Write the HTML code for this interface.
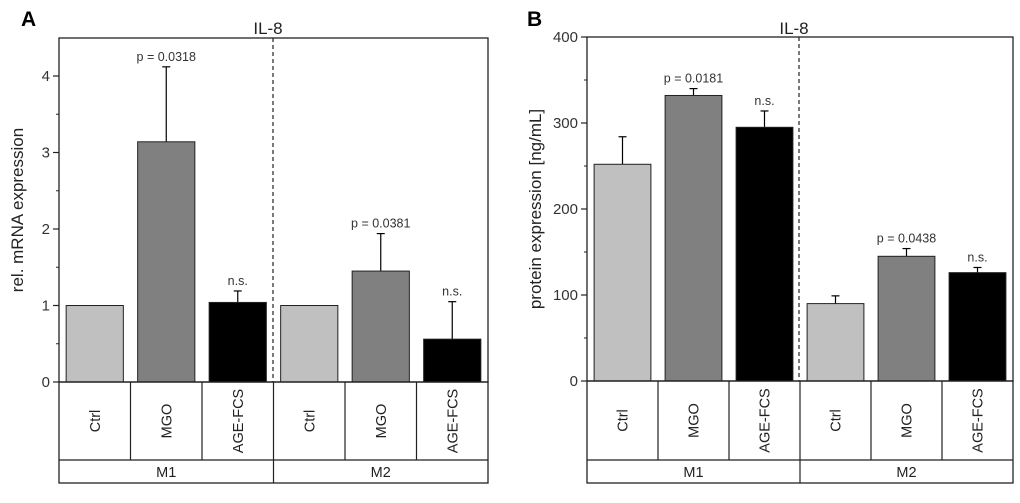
<!DOCTYPE html>
<html><head><meta charset="utf-8"><style>
html,body{margin:0;padding:0;background:#fff;width:1020px;height:503px;overflow:hidden}
svg{display:block;font-family:"Liberation Sans",Arial,sans-serif}
</style></head><body>
<svg id="c" width="1020" height="503" viewBox="0 0 1020 503" xmlns="http://www.w3.org/2000/svg"></svg>
<script>
const categories = ["Ctrl","MGO","AGE-FCS","Ctrl","MGO","AGE-FCS"];
const groups = ["M1","M2"];
const mrnaValues = [1, 3.14, 1.04, 1, 1.45, 0.56];
const mrnaErrors = [0, 0.98, 0.15, 0, 0.49, 0.49];
const mrnaLabels = ["", "p = 0.0318", "n.s.", "", "p = 0.0381", "n.s."];
const mrnaTicks = [0, 1, 2, 3, 4];
const proteinValues = [252, 332, 295, 90, 145, 126];
const proteinErrors = [32, 8, 19, 9, 9, 6];
const proteinLabels = ["", "p = 0.0181", "n.s.", "", "p = 0.0438", "n.s."];
const proteinTicks = [0, 100, 200, 300, 400];
const colors = ["#c0c0c0","#808080","#000000","#c0c0c0","#808080","#000000"];

const svg = document.getElementById('c');
const NS = "http://www.w3.org/2000/svg";
function mk(tag, attrs, parent) {
  const e = document.createElementNS(NS, tag);
  for (const k in attrs) e.setAttribute(k, attrs[k]);
  (parent || svg).appendChild(e);
  return e;
}

function panel(opt) {
  const g = mk('g', {});
  
  
  const L = opt.left, R = opt.right, T = opt.top, B = opt.base;
  const y = v => B - (v - 0) / opt.max * (B - opt.ymaxPx);
  const cw = (R - L) / 6;
  const xs = i => L + cw * i;
  const letter = mk('text', {x: opt.letterX, y: 26, 'font-size': 21, 'font-weight': 'bold', fill: '#000'}, g);
  letter.textContent = opt.letter;
  
  
  const t = mk('text', {x: opt.dash - 5, y: 34, 'font-size': 17, 'text-anchor': 'middle', fill: '#222'}, g);
  t.textContent = "IL-8";
  
  
  for (let i = 0; i < 6; i++) {
    const v = opt.values[i], e = opt.errors[i];
    const cx = xs(i) + cw / 2, bw = cw * 0.8;
    if (e > 0) {
      const l = mk('line', {x1: cx, x2: cx, y1: y(v), y2: y(v + e), stroke: '#000', 'stroke-width': 1.2}, g);
      
      
      const c = mk('line', {x1: cx - 4, x2: cx + 4, y1: y(v + e), y2: y(v + e), stroke: '#000', 'stroke-width': 1.2}, g);
      
      
    }
    const r = mk('rect', {x: cx - bw / 2, y: y(v), width: bw, height: B - y(v), fill: colors[i], stroke: '#222', 'stroke-width': 1}, g);
    
    
    if (opt.labels[i]) {
      const lt = mk('text', {x: cx, y: y(v + e) - 6, 'font-size': 12.5, 'text-anchor': 'middle', fill: '#333'}, g);
      lt.textContent = opt.labels[i];
      
      
    }
  }
  const f = mk('rect', {x: L, y: T, width: R - L, height: B - T, fill: 'none', stroke: '#222', 'stroke-width': 1.3}, g);
  
  
  const d = mk('line', {x1: opt.dash, x2: opt.dash, y1: T, y2: B, stroke: '#222', 'stroke-width': 1.2, 'stroke-dasharray': '4,3'}, g);
  
  
  const step = opt.ticks[1] - opt.ticks[0];
  for (let k = 0; k < opt.ticks.length; k++) {
    const tv = opt.ticks[k];
    const tk = mk('line', {x1: L - 6, x2: L, y1: y(tv), y2: y(tv), stroke: '#222', 'stroke-width': 1.2}, g);
    
    
    const tl = mk('text', {x: L - 9, y: y(tv) + 5, 'font-size': 15, 'text-anchor': 'end', fill: '#333'}, g);
    tl.textContent = tv;
    
    
    const mv = tv + step / 2;
    if (y(mv) > T) {
      const mt = mk('line', {x1: L - 3, x2: L, y1: y(mv), y2: y(mv), stroke: '#222', 'stroke-width': 1}, g);
      
      
    }
  }
  const yt = mk('text', {x: 0, y: 0, 'font-size': 17, 'text-anchor': 'middle', fill: '#222', transform: `translate(${opt.ytx},${(T + B) / 2}) rotate(-90)`}, g);
  yt.textContent = opt.ytitle;
  
  
  const cb = 460, gb = 483;
  const tb = mk('rect', {x: L, y: B, width: R - L, height: gb - B, fill: 'none', stroke: '#222', 'stroke-width': 1.3}, g);
  
  
  const hl = mk('line', {x1: L, x2: R, y1: cb, y2: cb, stroke: '#222', 'stroke-width': 1.2}, g);
  
  
  for (let i = 1; i < 6; i++) {
    const vl = mk('line', {x1: xs(i), x2: xs(i), y1: B, y2: i === 3 ? gb : cb, stroke: '#222', 'stroke-width': 1.2}, g);
    
    
  }
  for (let i = 0; i < 6; i++) {
    const cx = xs(i) + cw / 2;
    const ct = mk('text', {x: 0, y: 0, 'font-size': 14.5, 'text-anchor': 'middle', fill: '#222', transform: `translate(${cx + 5},${(B + cb) / 2}) rotate(-90)`}, g);
    ct.textContent = categories[i];
    
    
  }
  for (let j = 0; j < 2; j++) {
    const gx = L + (R - L) * (j * 0.5 + 0.25);
    const gt = mk('text', {x: gx, y: 477, 'font-size': 14.5, 'text-anchor': 'middle', fill: '#222'}, g);
    gt.textContent = groups[j];
    
    
  }
}

panel({id: 'mrna', letter: 'A', letterX: 21, left: 59, right: 488, top: 38, base: 382, ymaxPx: 76, max: 4,
  dash: 273, values: mrnaValues, errors: mrnaErrors, labels: mrnaLabels, ticks: mrnaTicks,
  ytitle: 'rel. mRNA expression', ytx: 23});
panel({id: 'protein', letter: 'B', letterX: 527, left: 587, right: 1013, top: 37, base: 381, ymaxPx: 37, max: 400,
  dash: 799, values: proteinValues, errors: proteinErrors, labels: proteinLabels, ticks: proteinTicks,
  ytitle: 'protein expression [ng/mL]', ytx: 541});
</script>
</body></html>
